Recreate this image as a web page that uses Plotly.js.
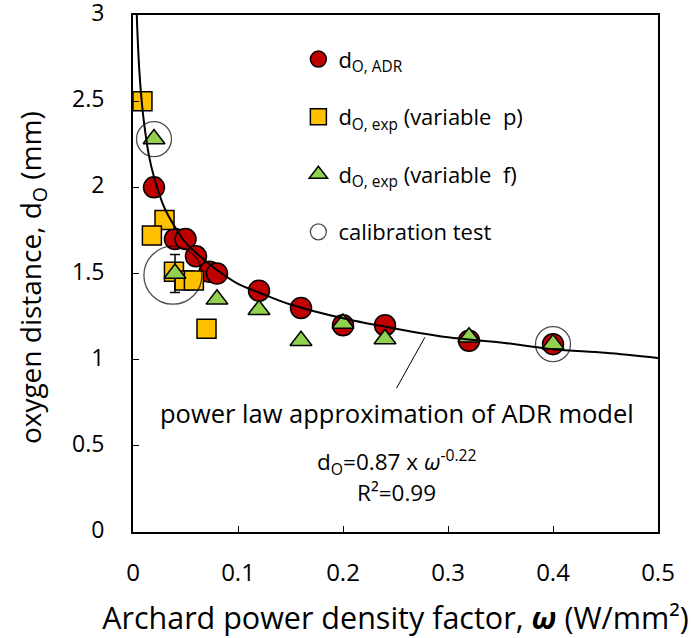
<!DOCTYPE html>
<html>
<head>
<meta charset="utf-8">
<script src="https://cdn.plot.ly/plotly-3.0.1.min.js"></script>
<style>body{margin:0;padding:0;background:#fff}#chart{width:691px;height:638px}</style>
</head>
<body>
<div id="chart"></div>
<script>
// ADR model values
const adrX = [0.02, 0.04, 0.05, 0.06, 0.073, 0.08, 0.12, 0.16, 0.20, 0.24, 0.32, 0.40];
const adrY = [2.00, 1.70, 1.70, 1.60, 1.51, 1.50, 1.40, 1.30, 1.20, 1.20, 1.11, 1.09];
// experimental, variable p
const expPX = [0.009, 0.03, 0.018, 0.039, 0.049, 0.058, 0.07];
const expPY = [2.50, 1.81, 1.72, 1.51, 1.46, 1.46, 1.18];
// experimental, variable f
const expFX = [0.02, 0.04, 0.08, 0.12, 0.16, 0.20, 0.24, 0.32, 0.40];
const expFY = [2.28, 1.50, 1.35, 1.29, 1.11, 1.21, 1.12, 1.13, 1.09];
const expFErr = [0, 0.11, 0, 0, 0, 0, 0, 0, 0];
// calibration tests
const calX = [0.02, 0.038, 0.40];
const calY = [2.28, 1.49, 1.09];
const calSize = [35, 58, 35];
// power law curve
const fitX = [0.0036, 0.004, 0.006, 0.008, 0.01, 0.015, 0.02, 0.03, 0.04, 0.05, 0.06, 0.08, 0.10, 0.12, 0.15, 0.20, 0.25, 0.30, 0.35, 0.40, 0.45, 0.50];
const fitY = [3.00, 2.93, 2.68, 2.52, 2.40, 2.19, 2.06, 1.88, 1.77, 1.68, 1.62, 1.52, 1.44, 1.39, 1.32, 1.24, 1.18, 1.13, 1.10, 1.06, 1.04, 1.01];
const xTicks = [0, 0.1, 0.2, 0.3, 0.4, 0.5];
const xTickText = ['0', '0.1', '0.2', '0.3', '0.4', '0.5'];
const yTicks = [0, 0.5, 1, 1.5, 2, 2.5, 3];
const yTickText = ['0', '0.5', '1', '1.5', '2', '2.5', '3'];

const FONT = '"Open Sans", Lato, sans-serif';

const traces = [
  {x: adrX, y: adrY, type: 'scatter', mode: 'markers', name: 'd<sub>O, ADR</sub>',
   legendgroup: 'a', legendrank: 1,
   marker: {symbol: 'circle', size: 21, color: '#C00000', line: {color: '#000', width: 1.5}}},
  {x: expPX, y: expPY, type: 'scatter', mode: 'markers', name: 'd<sub>O, exp</sub> (variable  p)',
   legendgroup: 'b', legendrank: 2,
   marker: {symbol: 'square', size: 19, color: '#FFC000', line: {color: '#000', width: 1.5}}},
  {x: expFX, y: expFY, type: 'scatter', mode: 'markers', name: 'd<sub>O, exp</sub> (variable  f)',
   legendgroup: 'c', legendrank: 3,
   error_y: {type: 'data', array: expFErr, visible: true, color: '#000', thickness: 1.5, width: 5},
   marker: {symbol: 'triangle-up', size: 19, color: '#92D050', line: {color: '#000', width: 1.5}}},
  {x: fitX, y: fitY, type: 'scatter', mode: 'lines', name: 'power law', showlegend: false,
   yaxis: 'y2',
   line: {color: '#000', width: 2, shape: 'spline'}},
  {x: calX, y: calY, type: 'scatter', mode: 'markers', name: 'calibration test',
   legendgroup: 'd', legendrank: 4,
   marker: {symbol: 'circle-open', size: calSize, color: '#000', line: {color: '#000', width: 1.3}}}
];

const layout = {
  width: 691, height: 638,
  margin: {l: 133, r: 33, t: 15, b: 106},
  paper_bgcolor: '#fff', plot_bgcolor: '#fff',
  font: {family: FONT, color: '#000', size: 24},
  showlegend: true,
  legend: {x: 0.315, y: 0.955, xanchor: 'left', yanchor: 'top', bgcolor: 'rgba(0,0,0,0)',
           font: {size: 22, family: FONT}, tracegroupgap: 26, traceorder: 'grouped', itemsizing: 'trace'},
  xaxis: {range: [0, 0.5], tickvals: xTicks, ticktext: xTickText, ticks: 'inside', ticklen: 6,
          tickcolor: '#000', showline: true, linecolor: '#000', linewidth: 2, mirror: true,
          showgrid: false, zeroline: false, tickfont: {size: 24, family: FONT}, ticklabelstandoff: 18,
          title: {text: 'Archard power density factor, <b><i>ω</i></b> (W/mm²)', font: {size: 30.5, family: FONT}, standoff: 22}},
  yaxis: {range: [0, 3], tickvals: yTicks, ticktext: yTickText, ticks: 'outside', ticklen: 22,
          tickcolor: 'rgba(0,0,0,0)', showline: true, linecolor: '#000', linewidth: 2, mirror: true,
          showgrid: false, zeroline: false, tickfont: {size: 23, family: FONT}, ticklabeloverflow: 'allow',
          ticklabelshift: -2},
  yaxis2: {range: [0, 3], overlaying: 'y', side: 'left', tickvals: yTicks, ticks: 'inside', ticklen: 6,
           tickcolor: '#000', showticklabels: false, showline: false, showgrid: false, zeroline: false},
  shapes: [
    {type: 'line', xref: 'x', yref: 'y', x0: 0.278, y0: 1.13, x1: 0.251, y1: 0.835, line: {color: '#000', width: 1}}
  ],
  annotations: [
    {x: -0.1924, y: 0.493, xref: 'paper', yref: 'paper', textangle: -90, xanchor: 'center', yanchor: 'middle',
     text: 'oxygen distance, d<sub>O</sub> (mm)', showarrow: false, font: {size: 28, family: FONT}},
    {x: 0.251, y: 0.69, xref: 'x', yref: 'y', text: 'power law approximation of ADR model', showarrow: false,
     font: {size: 25.5, family: FONT}},
    {x: 0.251, y: 0.405, xref: 'x', yref: 'y', text: 'd<sub>O</sub>=0.87 x <i>ω</i><sup>-0.22</sup>', showarrow: false,
     font: {size: 22.5, family: FONT}},
    {x: 0.251, y: 0.228, xref: 'x', yref: 'y', text: 'R²=0.99', showarrow: false,
     font: {size: 22.5, family: FONT}}
  ]
};

Plotly.newPlot('chart', traces, layout, {displayModeBar: false, staticPlot: true});
</script>
</body>
</html>
